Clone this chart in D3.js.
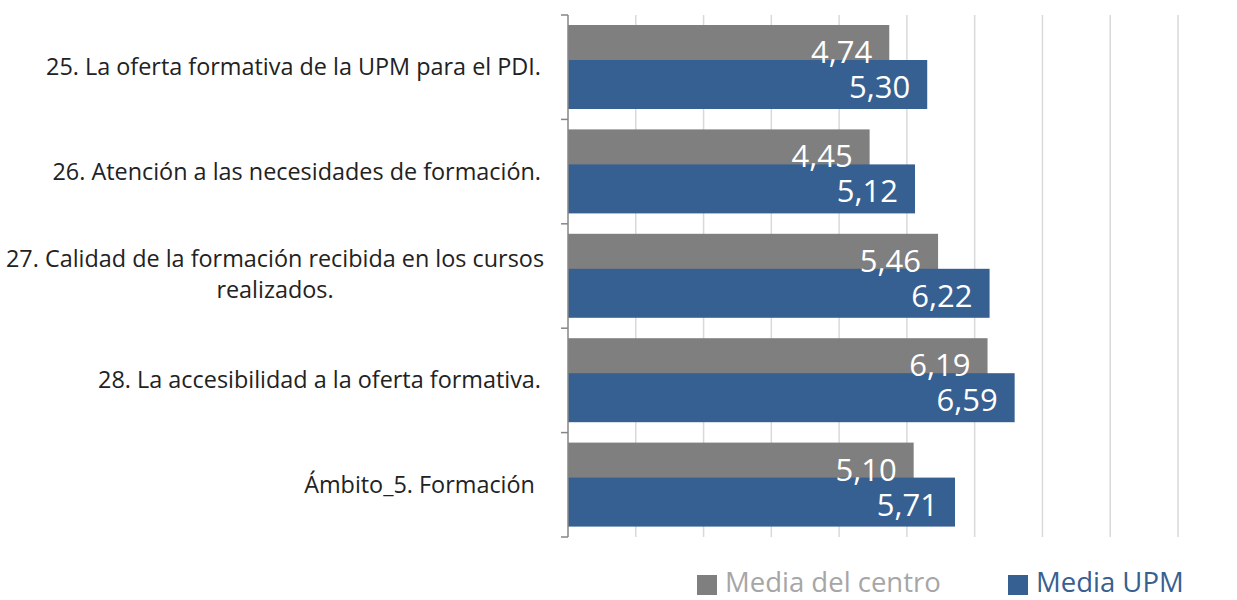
<!DOCTYPE html>
<html>
<head>
<meta charset="utf-8">
<script src="https://cdn.jsdelivr.net/npm/d3@7"></script>
<style>
  html, body { margin: 0; padding: 0; background: #fff; }
  svg { display: block; font-family: "Open Sans", "DejaVu Sans", sans-serif; }
</style>
</head>
<body>
<svg id="chart" width="1237" height="600"></svg>
<script>
// data
const categories = [
    ["25. La oferta formativa de la UPM para el PDI."],
    ["26. Atención a las necesidades de formación."],
    ["27. Calidad de la formación recibida en los cursos", "realizados."],
    ["28. La accesibilidad a la oferta formativa."],
    ["Ámbito_5. Formación "]
];
const mediaCentro = [4.74, 4.45, 5.46, 6.19, 5.10];
const mediaUPM = [5.30, 5.12, 6.22, 6.59, 5.71];
const seriesNames = ["Media del centro", "Media UPM"];
const xTicks = [0, 1, 2, 3, 4, 5, 6, 7, 8, 9];

const grayColor = "#7f7f7f";
const blueColor = "#376092";

const svg = d3.select("#chart");
const plotLeft = 568, plotRight = 1178, plotTop = 15, plotBottom = 537;

const x = d3.scaleLinear().domain([0, 9]).range([plotLeft, plotRight]);
const y = d3.scaleBand().domain(d3.range(categories.length)).range([plotTop, plotBottom]);
const fmt = v => d3.format(".2f")(v).replace(".", ",");

// gridlines
svg.append("g").attr("class", "grid")
    .selectAll("line")
    .data(xTicks.slice(1))
    .enter().append("line")
    .attr("x1", d => x(d)).attr("x2", d => x(d))
    .attr("y1", plotTop).attr("y2", plotBottom)
    .attr("stroke", "#d9d9d9")
    .attr("stroke-width", 1.5);

// bars
const barH = 49, barOffset = 35, barPad = 10;
const rows = svg.append("g").attr("class", "bars")
    .selectAll("g")
    .data(categories.map((c, i) => ({i: i, centro: mediaCentro[i], upm: mediaUPM[i]})))
    .enter().append("g")
    .attr("transform", d => `translate(0, ${y(d.i) + barPad})`);

rows.append("rect")
    .attr("x", x(0))
    .attr("y", 0)
    .attr("width", d => x(d.centro) - x(0))
    .attr("height", barH)
    .attr("fill", grayColor);

rows.append("rect")
    .attr("x", x(0))
    .attr("y", barOffset)
    .attr("width", d => x(d.upm) - x(0))
    .attr("height", barH)
    .attr("fill", blueColor);

rows.append("text")
    .attr("x", d => x(d.centro) - 17)
    .attr("y", 38)
    .attr("text-anchor", "end")
    .attr("fill", "#fff")
    .style("font-size", "31px")
    .text(d => fmt(d.centro));

rows.append("text")
    .attr("x", d => x(d.upm) - 17)
    .attr("y", 73)
    .attr("text-anchor", "end")
    .attr("fill", "#fff")
    .style("font-size", "31px")
    .text(d => fmt(d.upm));

// left axis
const axisG = svg.append("g").attr("class", "axis");
axisG.append("line")
    .attr("x1", plotLeft).attr("x2", plotLeft)
    .attr("y1", plotTop).attr("y2", plotBottom)
    .attr("stroke", "#868686").attr("stroke-width", 1.5);
axisG.selectAll("line.tick")
    .data(d3.range(categories.length + 1))
    .enter().append("line")
    .attr("class", "tick")
    .attr("x1", plotLeft - 7).attr("x2", plotLeft)
    .attr("y1", d => plotTop + d * y.step())
    .attr("y2", d => plotTop + d * y.step())
    .attr("stroke", "#868686").attr("stroke-width", 1.5);

// category labels
const labels = svg.append("g").attr("class", "labels")
    .selectAll("text")
    .data(categories)
    .enter().append("text")
    .attr("fill", "#222")
    .style("font-size", "23.4px")
    .attr("xml:space", "preserve");

labels.each(function (lines, i) {
    const t = d3.select(this);
    const cy = y(i) + y.bandwidth() / 2;
    const lh = 31;
    const startY = cy - (lines.length - 1) * lh / 2 + 8;
    if (lines.length === 1) {
        t.attr("text-anchor", "end");
        t.append("tspan").attr("x", 541).attr("y", startY).text(lines[0]);
    } else {
        t.attr("text-anchor", "middle");
        lines.forEach((l, j) => {
            t.append("tspan").attr("x", 275).attr("y", startY + j * lh - 2).text(l);
        });
    }
});

// legend
const legend = svg.append("g").attr("class", "legend");
const legendItems = [
    {name: seriesNames[0], color: grayColor, text: "#a6a6a6", x: 697},
    {name: seriesNames[1], color: blueColor, text: blueColor, x: 1008}
];
const li = legend.selectAll("g").data(legendItems).enter().append("g")
    .attr("transform", d => `translate(${d.x}, 573)`);
li.append("rect").attr("y", 2).attr("width", 20).attr("height", 20).attr("fill", d => d.color);
li.append("text")
    .attr("x", 28).attr("y", 19)
    .attr("fill", d => d.text)
    .style("font-size", "27.5px")
    .text(d => d.name);
</script>
</body>
</html>
